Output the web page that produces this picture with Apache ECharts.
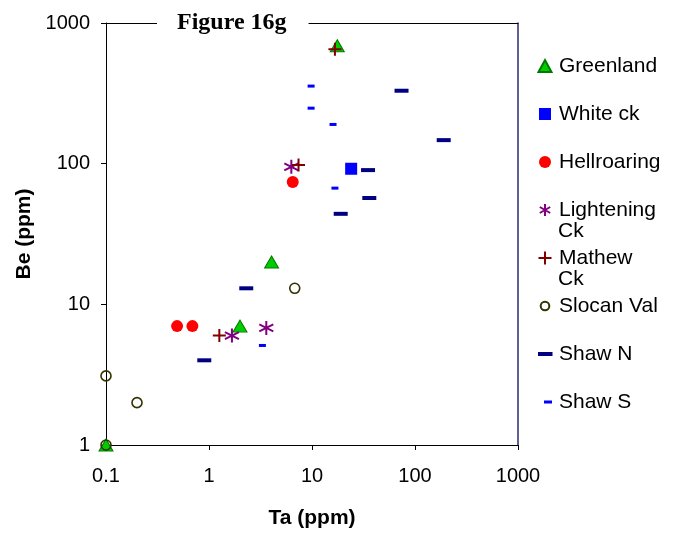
<!DOCTYPE html>
<html>
<head>
<meta charset="utf-8">
<script src="https://cdn.jsdelivr.net/npm/echarts@6/dist/echarts.min.js"></script>
<style>
  html, body { margin: 0; padding: 0; background: #fff; }
</style>
</head>
<body>
<div style="width:679px;height:533px;" id="fig16g"></div>
<script>
// Ta (ppm) vs Be (ppm), one list per locality
const greenland = [[17.6, 690], [4.05, 20], [2.0, 7.0], [0.1, 1]]
const whiteCk = [[24, 92]]
const hellroaring = [[6.5, 74], [0.49, 7.0], [0.69, 7.0]]
const lighteningCk = [[6.3, 95], [1.67, 6.0], [3.6, 6.8]]
const mathewCk = [[16.7, 650], [7.4, 98], [1.26, 6.0]]
const slocanVal = [[6.8, 13], [0.1, 3.1], [0.2, 2.0], [0.1, 1]]
const shawN = [[74, 330], [190, 147], [35, 90], [36, 57], [19, 44], [2.3, 13], [0.9, 4.0]]
const shawS = [[9.8, 356], [9.8, 248], [16, 190], [16.7, 67], [3.3, 5.1]]

const xTicks = [0.1, 1, 10, 100, 1000]
const yTicks = [1, 10, 100, 1000]

const font = 'Liberation Sans, Arial, sans-serif'
const asterisk = 'path://M5,0L5,10M0.7,2.5L9.3,7.5M0.7,7.5L9.3,2.5'
const plus = 'path://M5,0L5,10M0,5L10,5'
// legend icons: drawn inside a 16x14 box so small marks keep their size
const box = inner => 'path://M0,0' + inner + 'M16,14'

const fmt = v => String(+Number(v).toPrecision(6))

const chart = echarts.init(document.getElementById('fig16g'))
const option = {
  animation: false,
  backgroundColor: '#fff',
  title: {
    text: 'Figure 16g',
    left: 157,
    top: 9,
    padding: [2, 22, 2, 20],
    backgroundColor: '#fff',
    textStyle: { fontFamily: 'Liberation Serif, Times New Roman, serif', fontWeight: 'bold', fontSize: 24, color: '#000' }
  },
  grid: { left: 106, right: 161, top: 23, bottom: 88, outerBoundsMode: 'none' },
  legend: {
    orient: 'vertical',
    left: 537,
    top: 55,
    padding: 0,
    itemWidth: 16,
    itemHeight: 14,
    itemGap: 26,
    textStyle: { fontFamily: font, fontSize: 21, color: '#000', lineHeight: 22 },
    formatter: name => name.replace(' Ck', ''),
    data: [
      { name: 'Greenland', icon: box('M0.5,13L7,1L13.5,13Z') },
      { name: 'White ck', icon: box('M1,1h12v12h-12Z') },
      { name: 'Hellroaring', icon: box('M13,7A6,6 0 1 1 1,7A6,6 0 1 1 13,7Z') },
      { name: 'Lightening Ck', icon: box('M7,1L7,13M1.8,4L12.2,10M1.8,10L12.2,4') },
      { name: 'Mathew Ck', icon: box('M7,0.5L7,13.5M0.5,7L13.5,7') },
      { name: 'Slocan Val', icon: box('M11.3,7A4.3,4.3 0 1 1 2.7,7A4.3,4.3 0 1 1 11.3,7Z') },
      { name: 'Shaw N', icon: box('M0,5h14.5v4h-14.5Z') },
      { name: 'Shaw S', icon: box('M6,5.5h8v3h-8Z') }
    ]
  },
  graphic: [
    { type: 'text', left: 558, top: 221, style: { text: 'Ck', font: '21px ' + font, fill: '#000' } },
    { type: 'text', left: 558, top: 269, style: { text: 'Ck', font: '21px ' + font, fill: '#000' } }
  ],
  xAxis: [
    {
      type: 'log',
      logBase: 10,
      min: xTicks[0],
      max: xTicks[xTicks.length - 1],
      name: 'Ta (ppm)',
      nameLocation: 'middle',
      nameGap: 63,
      nameTextStyle: { fontFamily: font, fontWeight: 'bold', fontSize: 21, color: '#000' },
      axisLine: { lineStyle: { color: '#000', width: 1 } },
      axisTick: { length: 5, lineStyle: { color: '#000' } },
      axisLabel: { margin: 21, fontFamily: font, fontSize: 20, color: '#000', formatter: fmt },
      splitLine: { show: false },
      minorTick: { show: false }
    },
    {
      type: 'log',
      position: 'top',
      min: xTicks[0],
      max: xTicks[xTicks.length - 1],
      axisLine: { lineStyle: { color: '#000', width: 1 } },
      axisTick: { show: false },
      axisLabel: { show: false },
      splitLine: { show: false }
    }
  ],
  yAxis: [
    {
      type: 'log',
      logBase: 10,
      min: yTicks[0],
      max: yTicks[yTicks.length - 1],
      name: 'Be (ppm)',
      nameLocation: 'middle',
      nameGap: 70,
      nameTextStyle: { fontFamily: font, fontWeight: 'bold', fontSize: 21, color: '#000' },
      axisLine: { lineStyle: { color: '#000', width: 1 } },
      axisTick: { length: 5, lineStyle: { color: '#000' } },
      axisLabel: { margin: 16, fontFamily: font, fontSize: 20, color: '#000', formatter: fmt },
      splitLine: { show: false },
      minorTick: { show: false }
    },
    {
      type: 'log',
      position: 'right',
      min: yTicks[0],
      max: yTicks[yTicks.length - 1],
      axisLine: { lineStyle: { color: '#2a2a70', width: 1.5 } },
      axisTick: { show: false },
      axisLabel: { show: false },
      splitLine: { show: false }
    }
  ],
  series: [
    {
      name: 'Greenland', type: 'scatter', data: greenland, clip: false,
      symbol: 'triangle', symbolSize: [14, 12],
      itemStyle: { color: '#00cc00', borderColor: '#007a00', borderWidth: 1, opacity: 1 }
    },
    {
      name: 'White ck', type: 'scatter', data: whiteCk, clip: false,
      symbol: 'rect', symbolSize: 12,
      itemStyle: { color: '#0000ff', opacity: 1 }
    },
    {
      name: 'Hellroaring', type: 'scatter', data: hellroaring, clip: false,
      symbol: 'circle', symbolSize: 12,
      itemStyle: { color: '#ff0000', opacity: 1 }
    },
    {
      name: 'Lightening Ck', type: 'scatter', data: lighteningCk, clip: false,
      symbol: asterisk, symbolSize: 14,
      itemStyle: { color: 'rgba(0,0,0,0)', borderColor: '#800080', borderWidth: 2, opacity: 1 }
    },
    {
      name: 'Mathew Ck', type: 'scatter', data: mathewCk, clip: false,
      symbol: plus, symbolSize: 13,
      itemStyle: { color: 'rgba(0,0,0,0)', borderColor: '#800000', borderWidth: 2, opacity: 1 }
    },
    {
      name: 'Slocan Val', type: 'scatter', data: slocanVal, clip: false,
      symbol: 'circle', symbolSize: 10,
      itemStyle: { color: 'rgba(0,0,0,0)', borderColor: '#333300', borderWidth: 1.6, opacity: 1 }
    },
    {
      name: 'Shaw N', type: 'scatter', data: shawN, clip: false,
      symbol: 'rect', symbolSize: [14, 4],
      itemStyle: { color: '#000080', opacity: 1 }
    },
    {
      name: 'Shaw S', type: 'scatter', data: shawS, clip: false,
      symbol: 'rect', symbolSize: [7, 3],
      itemStyle: { color: '#0000ff', opacity: 1 }
    }
  ]
}
chart.setOption(option)
window.addEventListener('resize', () => {
  chart.resize()
})
</script>
</body>
</html>
